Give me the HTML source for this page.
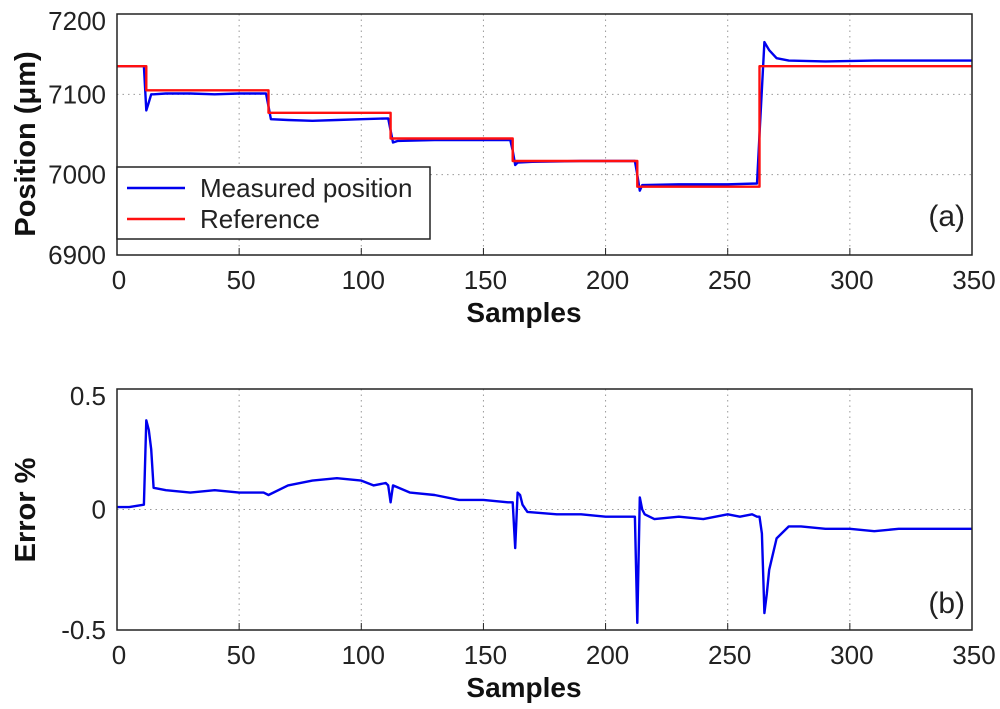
<!DOCTYPE html>
<html><head><meta charset="utf-8"><style>
body{margin:0;background:#fff}
svg{display:block;font-family:"Liberation Sans",Arial,sans-serif}
</style></head><body>
<svg id="c" width="1000" height="709"></svg>
<script>
const xTicks=[0,50,100,150,200,250,300,350];
const posTicks=[6900,7000,7100,7200];
const errTicks=[-0.5,0,0.5];
const errTickLabels=["-0.5","0","0.5"];
const refS=[0,12,12,62,62,112,112,162,162,213,213,263,263,350];
const refV=[7135,7135,7105,7105,7077,7077,7045,7045,7017,7017,6985,6985,7135,7135];
const measS=[0,11,12,13,14,15,20,30,40,50,61,62,63,70,80,90,100,111,112,113,115,130,145,161,162,163,164,170,190,212,213,214,215,230,250,262,263,265,267,270,275,290,310,330,350];
const measV=[7135,7135,7080,7090,7100,7100,7101,7101,7100,7101,7101,7085,7069,7068,7067,7068,7069,7070,7055,7040,7042,7043,7043,7043,7030,7012,7015,7016,7017,7017,7000,6980,6987,6988,6988,6989,7050,7165,7155,7145,7142,7141,7142,7142,7142];
const errS=[0,5,11,12,13,14,15,20,30,40,50,60,62,70,80,90,100,105,110,111,112,113,120,130,140,150,160,162,163,164,165,166,168,180,190,200,212,213,214,215,216,220,230,240,250,255,260,262,263,264,265,266,267,270,275,280,290,300,310,320,330,340,350];
const errV=[0.01,0.01,0.02,0.37,0.33,0.25,0.09,0.08,0.07,0.08,0.07,0.07,0.06,0.1,0.12,0.13,0.12,0.1,0.11,0.1,0.03,0.1,0.07,0.06,0.04,0.04,0.03,0.03,-0.16,0.07,0.06,0.02,-0.01,-0.02,-0.02,-0.03,-0.03,-0.47,0.05,0.0,-0.02,-0.04,-0.03,-0.04,-0.02,-0.03,-0.02,-0.03,-0.03,-0.1,-0.43,-0.35,-0.25,-0.12,-0.07,-0.07,-0.08,-0.08,-0.09,-0.08,-0.08,-0.08,-0.08];

const svg=document.getElementById('c');const NS='http://www.w3.org/2000/svg';
function el(t,a,txt){const e=document.createElementNS(NS,t);for(const k in a)e.setAttribute(k,a[k]);if(txt!==undefined)e.textContent=txt;svg.appendChild(e);return e;}
const X0=117,X1=972;
const sx=v=>X0+(v-0)/350*(X1-X0);
function panel(top,bot,ymin,ymax,yt,ytl,name){
  const sy=v=>bot-(v-ymin)/(ymax-ymin)*(bot-top);
  let g=el('rect',{x:X0,y:top,width:X1-X0,height:bot-top,fill:'#fff',stroke:'none'});
  
  xTicks.forEach(t=>{const x=sx(t);
    if(t>0&&t<350){let l=el('line',{x1:x,y1:top,x2:x,y2:bot,stroke:'#999','stroke-dasharray':'1.5,4'});}
    let tk=el('line',{x1:x,y1:bot,x2:x,y2:bot-7,stroke:'#222'});
    let lb=el('text',{x:x+2,y:bot+34,'text-anchor':'middle','font-size':26,fill:'#222'},t);
  });
  yt.forEach((t,i)=>{const y=sy(t);
    if(t>ymin&&t<ymax){let l=el('line',{x1:X0,y1:y,x2:X1,y2:y,stroke:'#999','stroke-dasharray':'1.5,4'});}
    let lb=el('text',{x:X0-11,y:y+(t===ymax?16:9),'text-anchor':'end','font-size':26,fill:'#222'},ytl[i]);
  });
  return sy;
}
function line(S,V,sy,color,name){
  const d=S.map((s,i)=>(i?'L':'M')+sx(s).toFixed(1)+','+sy(V[i]).toFixed(1)).join('');
  const p=el('path',{d:d,fill:'none',stroke:color,'stroke-width':2.4,'stroke-linejoin':'round'});
  
}
const syA=panel(14,255,6900,7200,posTicks,posTicks.map(String),'position');
line(measS,measV,syA,'#0000ee','measured-position-line');
line(refS,refV,syA,'#ff1010','reference-line');
let fr=el('rect',{x:X0,y:14,width:X1-X0,height:241,fill:'none',stroke:'#222','stroke-width':1.5});
let lg=el('rect',{x:X0,y:167,width:313,height:72,fill:'#fff',stroke:'#222','stroke-width':1.5});
let l1=el('line',{x1:127,y1:188,x2:185,y2:188,stroke:'#0000ee','stroke-width':2.4});
let t1=el('text',{x:200,y:197,'font-size':26,fill:'#222'},'Measured position');
let l2=el('line',{x1:127,y1:219,x2:185,y2:219,stroke:'#ff1010','stroke-width':2.4});
let t2=el('text',{x:200,y:228,'font-size':26,fill:'#222'},'Reference');
let pa=el('text',{x:965,y:226,'text-anchor':'end','font-size':30,fill:'#222'},'(a)');
let xa=el('text',{x:524,y:322,'text-anchor':'middle','font-size':28,'font-weight':'bold',fill:'#111'},'Samples');
let ya=el('text',{x:0,y:0,'text-anchor':'middle','font-size':29,'font-weight':'bold',fill:'#111',transform:'translate(35,144) rotate(-90)'},'Position (μm)');
const syB=panel(389,630,-0.5,0.5,errTicks,errTickLabels,'error');
line(errS,errV,syB,'#0000ee','error-line');
let fr2=el('rect',{x:X0,y:389,width:X1-X0,height:241,fill:'none',stroke:'#222','stroke-width':1.5});
let pb=el('text',{x:965,y:613,'text-anchor':'end','font-size':30,fill:'#222'},'(b)');
let xb=el('text',{x:524,y:697,'text-anchor':'middle','font-size':28,'font-weight':'bold',fill:'#111'},'Samples');
let yb=el('text',{x:0,y:0,'text-anchor':'middle','font-size':29,'font-weight':'bold',fill:'#111',transform:'translate(35,510) rotate(-90)'},'Error %');
</script>
</body></html>
